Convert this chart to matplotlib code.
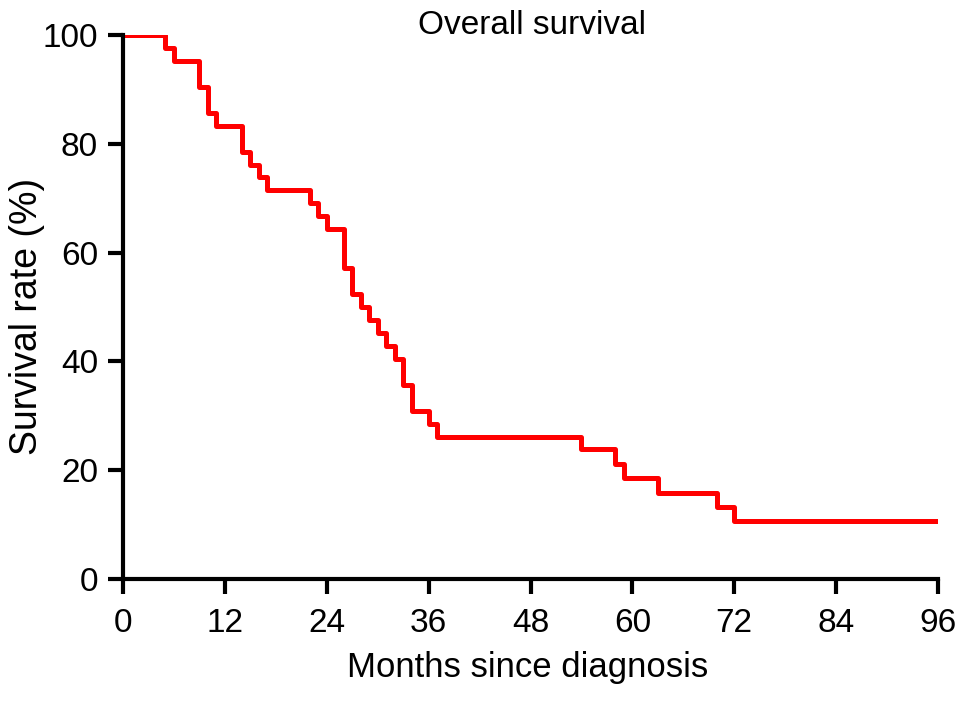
import matplotlib
matplotlib.use('Agg')
import matplotlib.pyplot as plt

plt.rcParams['font.family'] = ['Liberation Sans', 'DejaVu Sans']

# step times (months) and survival (%)
months = [0, 5, 6, 9, 10, 11, 14, 15, 16, 17, 22, 23, 24, 26, 27, 28, 29, 30, 31, 32, 33, 34, 36, 37, 54, 58, 59, 63, 70, 72, 96]
survival = [100, 97.62, 95.24, 90.48, 85.71, 83.33, 78.57, 76.19, 73.81, 71.43, 69.05, 66.67, 64.29, 57.14,
            52.38, 50.0, 47.62, 45.24, 42.86, 40.48, 35.71, 30.95, 28.57, 26.19, 23.81, 21.16, 18.52, 15.87,
            13.23, 10.58, 10.58]
xticks = [0, 12, 24, 36, 48, 60, 72, 84, 96]
yticks = [0, 20, 40, 60, 80, 100]

fig = plt.figure(figsize=(9.69, 7.02), dpi=100)
ax = fig.add_axes([123/969, 1-579/702, (938-123)/969, (579-35)/702])

ax.step(months, survival, where='post', color='#ff0000', lw=3.6)   # KM curve

ax.set_xlim(0, 96)
ax.set_ylim(0, 100)
ax.set_xticks(xticks)
ax.set_yticks(yticks)
ax.spines['top'].set_visible(False)
ax.spines['right'].set_visible(False)
for s in ['left', 'bottom']:
    ax.spines[s].set_linewidth(3)
ax.tick_params(width=3, length=11, labelsize=24)
ax.tick_params(axis='x', pad=10)
ax.tick_params(axis='y', pad=7)

ax.set_xlabel('Months since diagnosis', fontsize=25)
ax.xaxis.label.set_va('center')
ax.xaxis.set_label_coords(0.496, (579-668)/544)
ax.set_ylabel('Survival rate (%)', fontsize=27)
ax.yaxis.label.set_va('center')
ax.yaxis.set_label_coords((27-123)/815, (579-316)/544)
fig.text(532/969, 1-25/702, 'Overall survival', fontsize=24, ha='center', va='center')

fig.savefig('out.png', dpi=100)
